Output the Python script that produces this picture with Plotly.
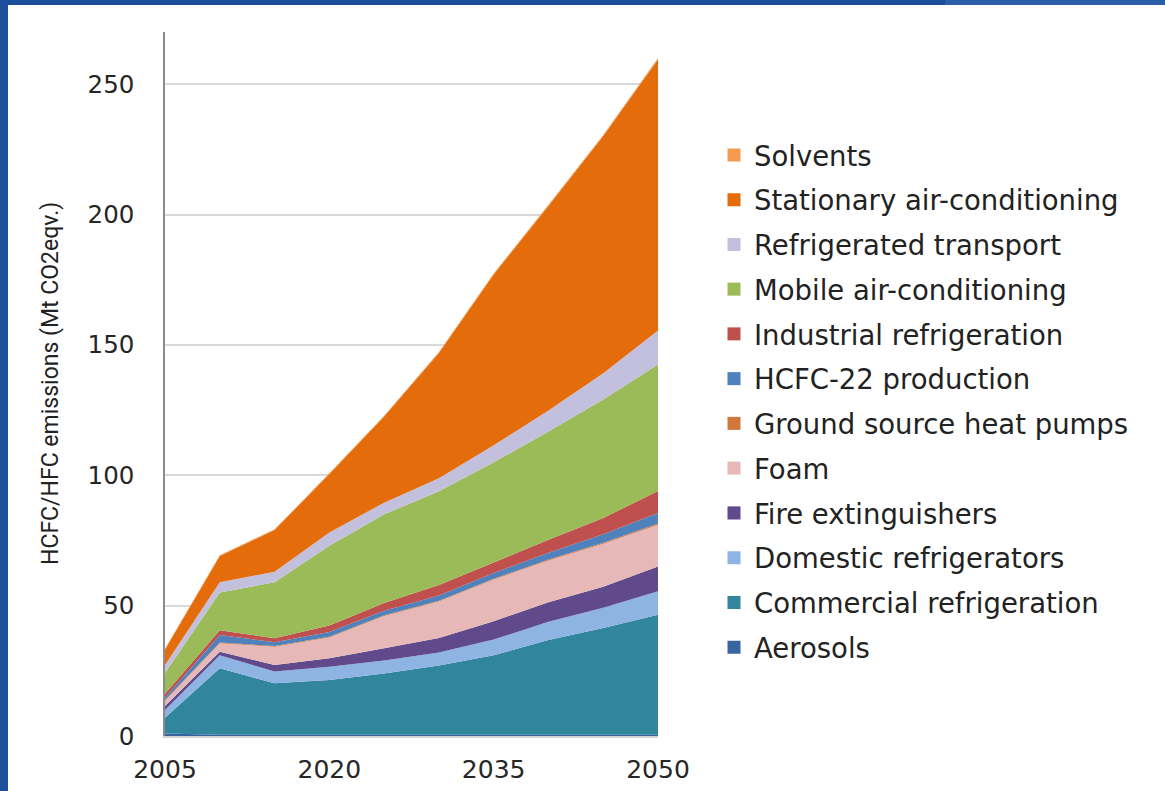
import plotly.graph_objects as go

# Emission projections by sector (Mt CO2-eq), stacked bottom to top
years = [2005, 2010, 2015, 2020, 2025, 2030, 2035, 2040, 2045, 2050]

aerosols = [1.0, 0.5, 0.5, 0.5, 0.5, 0.5, 0.5, 0.5, 0.5, 0.5]
commercial_refrigeration = [6.0, 25.5, 19.7, 21.0, 23.5, 26.5, 30.5, 36.3, 40.9, 46.0]
domestic_refrigerators = [3.0, 5.0, 4.5, 5.1, 5.0, 5.0, 6.0, 7.0, 7.8, 9.0]
fire_extinguishers = [1.5, 1.3, 2.5, 3.2, 4.7, 5.6, 7.0, 7.5, 8.0, 9.5]
foam = [2.0, 3.3, 7.0, 8.0, 12.3, 14.0, 16.0, 16.0, 16.5, 16.0]
ground_source_heat_pumps = [0.2, 0.3, 0.3, 0.3, 0.3, 0.3, 0.3, 0.4, 0.4, 0.5]
hcfc22_production = [1.0, 2.8, 1.5, 1.8, 1.7, 2.0, 2.2, 2.6, 3.3, 4.0]
industrial_refrigeration = [1.5, 1.9, 1.5, 2.5, 3.0, 4.0, 4.0, 5.0, 6.2, 8.5]
mobile_air_conditioning = [8.0, 14.4, 21.5, 30.6, 34.0, 36.0, 38.5, 41.5, 45.5, 48.5]
refrigerated_transport = [3.0, 4.0, 4.0, 5.0, 4.5, 5.0, 6.5, 8.0, 10.0, 13.0]
stationary_air_conditioning = [6.0, 10.0, 16.0, 22.5, 33.0, 48.0, 65.5, 78.5, 91.0, 104.0]
solvents = [0.3, 0.3, 0.3, 0.3, 0.3, 0.4, 0.4, 0.4, 0.4, 0.5]

series = [
    ("Aerosols", aerosols, "#3A64A0"),
    ("Commercial refrigeration", commercial_refrigeration, "#31859C"),
    ("Domestic refrigerators", domestic_refrigerators, "#8EB4E3"),
    ("Fire extinguishers", fire_extinguishers, "#604A8B"),
    ("Foam", foam, "#E6B9B8"),
    ("Ground source heat pumps", ground_source_heat_pumps, "#D2773A"),
    ("HCFC-22 production", hcfc22_production, "#4F81BD"),
    ("Industrial refrigeration", industrial_refrigeration, "#C0504D"),
    ("Mobile air-conditioning", mobile_air_conditioning, "#9BBB59"),
    ("Refrigerated transport", refrigerated_transport, "#C3C0DE"),
    ("Stationary air-conditioning", stationary_air_conditioning, "#E46C0A"),
    ("Solvents", solvents, "#F59B50"),
]

x_ticks = [2005, 2020, 2035, 2050]
y_ticks = [0, 50, 100, 150, 200, 250]
y_title = "HCFC/HFC emissions (Mt CO2eqv.)"

W, H = 1165, 791
ML, MR, MT, MB = 165, 507, 32, 55
PW, PH = W - ML - MR, H - MT - MB


def px_x(p):
    return (p - ML) / PW


def px_y(p):
    return (H - MB - p) / PH


fig = go.Figure()

# stacked areas
for name, vals, color in series:
    fig.add_trace(go.Scatter(
        x=years, y=vals, name=name, mode="lines",
        stackgroup="one", line=dict(width=0, color=color),
        fillcolor=color, showlegend=False, hoverinfo="x+y+name",
    ))

# legend entries, top of the stack listed first
for i, (name, vals, color) in enumerate(reversed(series)):
    fig.add_trace(go.Scatter(
        x=[None], y=[None], name=name, mode="markers",
        marker=dict(symbol="square", size=13, color=color),
        legendgroup=f"g{i}", showlegend=True,
    ))

tick_font = dict(family="DejaVu Sans, Verdana, sans-serif", color="#262626")

fig.update_layout(
    width=W, height=H,
    margin=dict(l=ML, r=MR, t=MT, b=MB, pad=0),
    paper_bgcolor="white", plot_bgcolor="white",
    showlegend=True,
    legend=dict(
        x=px_x(714), y=px_y(130.5), xanchor="left", yanchor="top",
        traceorder="grouped", tracegroupgap=6,
        font=dict(family="DejaVu Sans, Verdana, sans-serif", size=27.5, color="#222222"),
        bgcolor="rgba(0,0,0,0)", borderwidth=0,
    ),
    xaxis=dict(
        range=[2005, 2050], tickvals=x_ticks, ticktext=[str(t) for t in x_ticks],
        showgrid=False, zeroline=False, showline=True, linecolor="#d4d4d4", linewidth=1.5,
        ticks="", ticklabelstandoff=10, tickfont=dict(size=25, **tick_font),
        automargin=False,
    ),
    yaxis=dict(
        range=[0, 270], tickvals=y_ticks,
        showgrid=True, gridcolor="#d9d9d9", gridwidth=1.5,
        zeroline=False, showline=True, linecolor="#8c8c8c", linewidth=1.5,
        ticks="", ticklabelstandoff=24, tickfont=dict(size=24.5, **tick_font),
        automargin=False,
    ),
    annotations=[dict(
        text=y_title, xref="paper", yref="paper",
        x=px_x(50), y=0.5, xanchor="center", yanchor="middle",
        textangle=-90, showarrow=False,
        font=dict(family="Roboto, DejaVu Sans, sans-serif", size=23, color="#222222"),
    )],
    shapes=[
        # frame strips along the left and top edges
        dict(type="rect", xref="paper", yref="paper", layer="above",
             x0=px_x(0), x1=px_x(8), y0=px_y(H), y1=px_y(0),
             fillcolor="#1B4F9C", line=dict(width=0)),
        dict(type="rect", xref="paper", yref="paper", layer="above",
             x0=px_x(0), x1=px_x(945), y0=px_y(5), y1=px_y(0),
             fillcolor="#1B4F9C", line=dict(width=0)),
        dict(type="rect", xref="paper", yref="paper", layer="above",
             x0=px_x(945), x1=px_x(W), y0=px_y(5), y1=px_y(0),
             fillcolor="#2A5EA6", line=dict(width=0)),
    ],
)

fig.write_html("out.html")
